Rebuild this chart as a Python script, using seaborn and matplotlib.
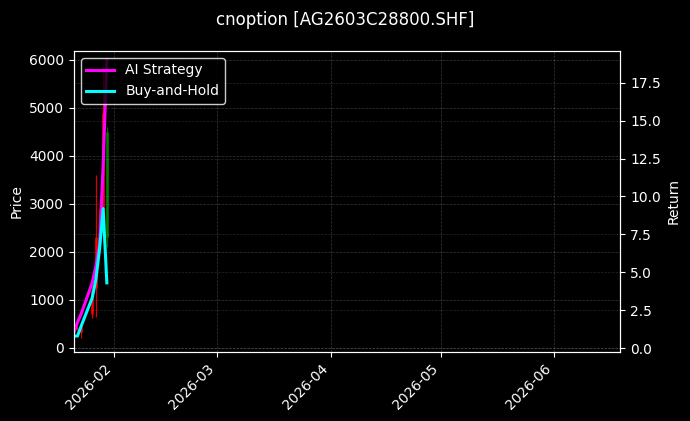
import pandas as pd
import seaborn as sns
import matplotlib.pyplot as plt
import matplotlib.dates as mdates

plt.style.use('dark_background')

# Data
dates = pd.to_datetime(['2026-01-21', '2026-01-22', '2026-01-23', '2026-01-26',
                        '2026-01-27', '2026-01-28', '2026-01-29', '2026-01-30'])
open_ = [430, 400, 330, 700, 1250, 2300, 2900, 4500]
high = [470, 450, 480, 1300, 3600, 3100, 5900, 4600]
low = [330, 380, 200, 620, 650, 2200, 2800, 2100]
close = [400, 420, 450, 1200, 2300, 2900, 4900, 2300]
ai_return = [1.0, 1.7, 2.25, 4.3, 5.4, 6.8, 12.1, 19.0]
bh_return = [0.79, 0.79, 1.45, 3.3, 4.5, 6.5, 9.2, 4.3]

df = pd.DataFrame({'date': dates, 'open': open_, 'high': high, 'low': low,
                   'close': close, 'ai': ai_return, 'bh': bh_return})

fig = plt.figure(figsize=(6.9, 4.21), dpi=100)
ax = fig.add_axes([0.107, 0.164, 0.792, 0.715])
ax2 = ax.twinx()

# Candles: red = up, green = down
colors = ['red' if c >= o else 'green' for o, c in zip(df['open'], df['close'])]
ax.vlines(df['date'], df['low'], df['high'], colors=colors, linewidth=0.9, alpha=0.85)
ax.vlines(df['date'], df[['open', 'close']].min(axis=1), df[['open', 'close']].max(axis=1),
          colors=colors, linewidth=2, alpha=0.85)

# Return curves
sns.lineplot(data=df, x='date', y='ai', ax=ax2, color='magenta', linewidth=2.2,
             label='AI Strategy')
sns.lineplot(data=df, x='date', y='bh', ax=ax2, color='cyan', linewidth=2.2,
             label='Buy-and-Hold')

ax.set_xlim(pd.Timestamp('2026-01-21'), pd.Timestamp('2026-06-19'))
ax2.set_ylim(-0.26, 19.6)

ax.set_ylabel('Price')
ax2.set_ylabel('Return')
ax.set_xlabel('')
ax2.set_xlabel('')

ax.xaxis.set_major_locator(mdates.MonthLocator())
ax.xaxis.set_major_formatter(mdates.DateFormatter('%Y-%m'))
plt.setp(ax.get_xticklabels(), rotation=45, ha='right')

ax.grid(True, linestyle='--', linewidth=0.5, alpha=0.22)
ax2.grid(True, linestyle='--', linewidth=0.5, alpha=0.15)

ax2.legend(loc='upper left', facecolor='black', edgecolor='white', framealpha=0.8)

fig.suptitle('cnoption [AG2603C28800.SHF]', fontsize=12, y=0.975)

fig.savefig('out.png', dpi=100)
